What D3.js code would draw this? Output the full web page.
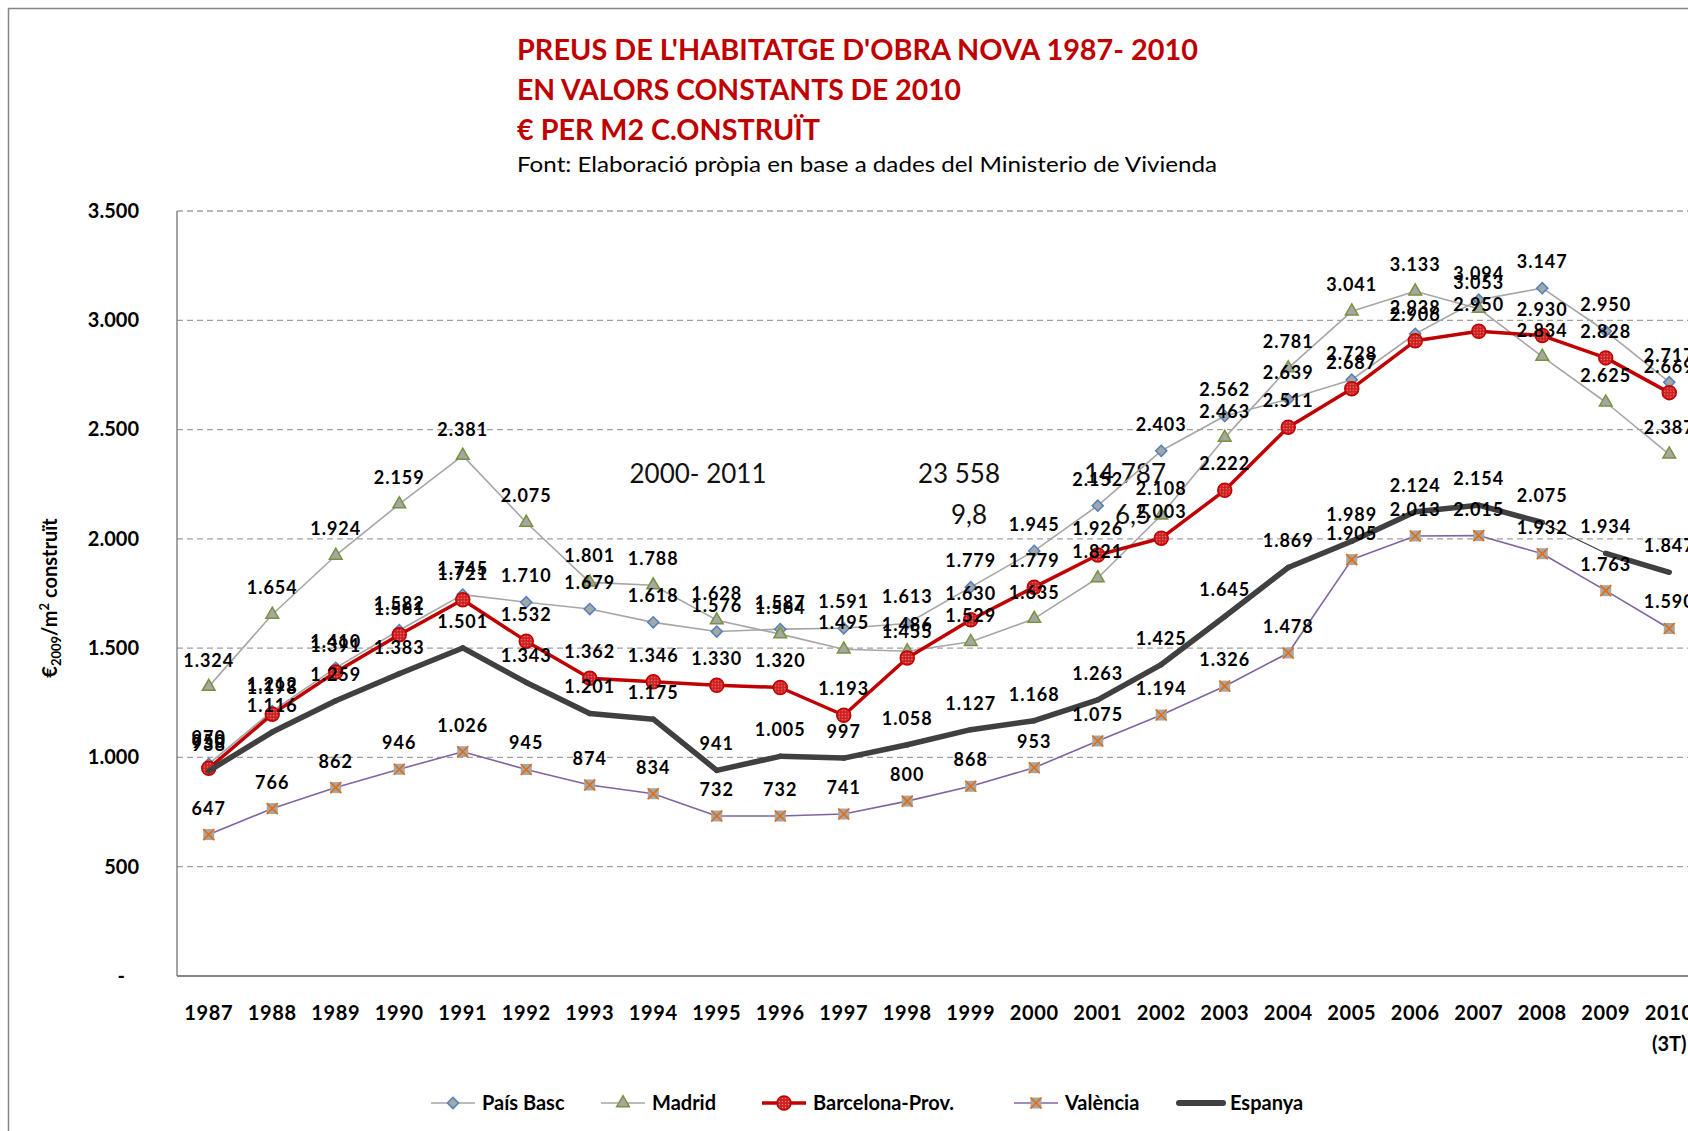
<!DOCTYPE html>
<html>
<head>
<meta charset="utf-8">
<script src="https://cdn.jsdelivr.net/npm/d3@7"></script>
<style>
  body { margin: 0; background: #fff; }
  svg text { font-family: Lato, "Open Sans", sans-serif; }
</style>
</head>
<body>
<svg id="render" width="1688" height="1131"></svg>
<script>
const years = ["1987","1988","1989","1990","1991","1992","1993","1994","1995","1996","1997","1998",
    "1999","2000","2001","2002","2003","2004","2005","2006","2007","2008","2009","2010"];
const yearSub = {"2010": "(3T)"};

const paisBasc  = [970,1212,1410,1582,1745,1710,1679,1618,1576,1587,1591,1613,1779,1945,2152,2403,2562,2639,2728,2938,3094,3147,2950,2717];
const madrid    = [1324,1654,1924,2159,2381,2075,1801,1788,1628,1564,1495,1486,1529,1635,1821,2108,2463,2781,3041,3133,3053,2834,2625,2387];
const barcelona = [950,1198,1391,1561,1721,1532,1362,1346,1330,1320,1193,1455,1630,1779,1926,2003,2222,2511,2687,2906,2950,2930,2828,2669];
const valencia  = [647,766,862,946,1026,945,874,834,732,732,741,800,868,953,1075,1194,1326,1478,1905,2013,2015,1932,1763,1590];
const espanya   = [938,1116,1259,1383,1501,1343,1201,1175,941,1005,997,1058,1127,1168,1263,1425,1645,1869,1989,2124,2154,2075,1934,1847];

const yTicks = [0,500,1000,1500,2000,2500,3000,3500];

const titleLines = ["PREUS DE L'HABITATGE D'OBRA NOVA 1987- 2010", "EN VALORS CONSTANTS DE 2010", "€ PER M2 C.ONSTRUÏT"];
const subtitle = "Font: Elaboració pròpia en base a  dades del Ministerio de Vivienda";
// loose notes floating in the plot
const notes = [
    {text: "2000- 2011", x: 698, y: 483},
    {text: "23 558", x: 959, y: 483},
    {text: "9,8", x: 969, y: 524},
    {text: "14 787", x: 1125, y: 483},
    {text: "6,5", x: 1133, y: 524}
];

const locale = d3.formatLocale({decimal: ",", thousands: ".", grouping: [3], currency: ["", "€"]});
const fmt = locale.format(",d");

const series = [
    {name: "País Basc", values: paisBasc, line: "#a6a6a6", width: 1.6, marker: "diamond"},
    {name: "Madrid", values: madrid, line: "#a6a6a6", width: 1.6, marker: "triangle"},
    {name: "Barcelona-Prov.", values: barcelona, line: "#c00000", width: 3.5, marker: "circle"},
    {name: "València", values: valencia, line: "#8064a2", width: 1.6, marker: "cross"},
    {name: "Espanya", values: espanya, line: "#404040", width: 5.5, marker: null}
];
const legendX = [431, 601, 762, 1014, 1179];

const svg = d3.select("svg#render");
const defs = svg.append("defs");
const pat = defs.append("pattern")
    .attr("id", "dots")
    .attr("width", 3).attr("height", 3)
    .attr("patternUnits", "userSpaceOnUse");
pat.append("rect").attr("width", 3).attr("height", 3).attr("fill", "#cc1f1f");
pat.append("circle").attr("cx", 1.5).attr("cy", 1.5).attr("r", 0.7).attr("fill", "#f08a8a");

// chart border
svg.append("rect")
    .attr("x", 8.5).attr("y", 8.5)
    .attr("width", 1800).attr("height", 1300)
    .attr("fill", "none")
    .attr("stroke", "#868686")
    .attr("stroke-width", 1.5);

const x = d3.scaleBand().domain(years).range([177, 1701]);
const xc = d => x(d) + x.bandwidth() / 2;
const y = d3.scaleLinear().domain([0, 3500]).range([976, 211]);

// title
const title = svg.append("g");
title.selectAll("text.t")
    .data(titleLines)
    .enter()
    .append("text")
    .attr("class", "t")
    .attr("x", 517)
    .attr("y", (d, i) => 60 + i * 40)
    .attr("fill", "#c00000")
    .attr("font-weight", "bold")
    .attr("font-size", 29)
    .attr("textLength", (d, i) => [681, 444, 303][i])
    .attr("lengthAdjust", "spacingAndGlyphs")
    .text(d => d);
title.append("text")
    .attr("x", 517)
    .attr("y", 172)
    .attr("font-size", 21)
    .attr("textLength", 700)
    .attr("lengthAdjust", "spacingAndGlyphs")
    .text(subtitle);

// gridlines
svg.append("g")
    .selectAll("line")
    .data(yTicks.filter(d => d > 0))
    .enter()
    .append("line")
    .attr("x1", 177).attr("x2", 1701)
    .attr("y1", d => y(d)).attr("y2", d => y(d))
    .attr("stroke", "#a0a0a0")
    .attr("stroke-width", 1.3)
    .attr("stroke-dasharray", "6,4");

// axes
const yAxis = svg.append("g")
    .attr("transform", "translate(177,0)")
    .call(d3.axisLeft(y).tickValues(yTicks).tickSize(0).tickPadding(38)
        .tickFormat(d => d === 0 ? "-" : fmt(d)));
yAxis.select(".domain").remove();
yAxis.selectAll("text")
    .attr("font-size", 20)
    .attr("font-weight", "bold")
    .attr("fill", "#000")
    .attr("dx", d => d === 0 ? -14 : 0);

const xAxis = svg.append("g")
    .attr("transform", "translate(0,976)")
    .call(d3.axisBottom(x).tickSize(0).tickPadding(30));
xAxis.select(".domain").remove();
xAxis.selectAll("text")
    .attr("font-size", 20)
    .attr("font-weight", "bold")
    .attr("letter-spacing", 0.6)
    .attr("fill", "#000");
xAxis.selectAll(".tick")
    .filter(d => yearSub[d])
    .append("text")
    .attr("y", 75)
    .attr("font-size", 20)
    .attr("font-weight", "bold")
    .attr("fill", "#000")
    .text(d => yearSub[d]);

svg.append("line")
    .attr("x1", 177).attr("x2", 177)
    .attr("y1", 211).attr("y2", 976)
    .attr("stroke", "#868686").attr("stroke-width", 1.5);
svg.append("line")
    .attr("x1", 177).attr("x2", 1701)
    .attr("y1", 976).attr("y2", 976)
    .attr("stroke", "#868686").attr("stroke-width", 2);

// y title
const yt = svg.append("text")
    .attr("transform", "translate(57,598) rotate(-90)")
    .attr("text-anchor", "middle")
    .attr("font-size", 20)
    .attr("font-weight", "bold");
yt.append("tspan").text("€");
yt.append("tspan").attr("font-size", 13).attr("dy", 4).text("2009");
yt.append("tspan").attr("dy", -4).text("/m");
yt.append("tspan").attr("font-size", 13).attr("dy", -8).text("2");
yt.append("tspan").attr("dy", 8).text(" construït");

// notes
svg.append("g")
    .selectAll("text")
    .data(notes)
    .enter()
    .append("text")
    .attr("x", d => d.x)
    .attr("y", d => d.y)
    .attr("text-anchor", "middle")
    .attr("font-size", 26)
    .attr("fill", "#111")
    .text(d => d.text);

const drawMarker = (g, type) => {
    if (type === "diamond") {
        g.append("path")
            .attr("d", d3.symbol(d3.symbolSquare, 62)())
            .attr("transform", "rotate(45)")
            .attr("fill", "#a6a6a6")
            .attr("stroke", "#4f81bd")
            .attr("stroke-width", 1.5);
    } else if (type === "triangle") {
        g.append("path")
            .attr("d", d3.symbol(d3.symbolTriangle, 70)())
            .attr("fill", "#a6a6a6")
            .attr("stroke", "#77933c")
            .attr("stroke-width", 1.5);
    } else if (type === "circle") {
        g.append("circle")
            .attr("r", 7)
            .attr("fill", "url(#dots)")
            .attr("stroke", "#c00000")
            .attr("stroke-width", 1.5);
    } else if (type === "cross") {
        g.append("rect")
            .attr("x", -5.5).attr("y", -5.5)
            .attr("width", 11).attr("height", 11)
            .attr("fill", "#a6a6a6");
        g.append("path")
            .attr("d", "M-5.5,-5.5L5.5,5.5M-5.5,5.5L5.5,-5.5")
            .attr("stroke", "#e46c0a")
            .attr("stroke-width", 1.6)
            .attr("fill", "none");
    }
};

const lineGen = d3.line()
    .x((d, i) => xc(years[i]))
    .y(d => y(d));

series.forEach(s => {
    const g = svg.append("g");
    if (s.name === "Espanya") {
        // the 2008-2009 segment is drawn thin in the source
        g.selectAll("line")
            .data(d3.pairs(s.values.map((v, i) => [xc(years[i]), y(v), years[i]])))
            .enter()
            .append("line")
            .attr("x1", d => d[0][0]).attr("y1", d => d[0][1])
            .attr("x2", d => d[1][0]).attr("y2", d => d[1][1])
            .attr("stroke", s.line)
            .attr("stroke-linecap", "round")
            .attr("stroke-width", d => d[0][2] === "2008" ? 1.2 : s.width);
    } else {
        g.append("path")
            .attr("d", lineGen(s.values))
            .attr("fill", "none")
            .attr("stroke", s.line)
            .attr("stroke-width", s.width)
            .attr("stroke-linejoin", "round");
    }
    if (s.marker) {
        g.selectAll("g.m")
            .data(s.values)
            .enter()
            .append("g")
            .attr("class", "m")
            .attr("transform", (d, i) => `translate(${xc(years[i])},${y(d)})`)
            .each(function() { drawMarker(d3.select(this), s.marker); });
    }
});

// data labels on top
series.forEach(s => {
    svg.append("g")
        .selectAll("text")
        .data(s.values)
        .enter()
        .append("text")
        .attr("x", (d, i) => xc(years[i]))
        .attr("y", d => y(d) - 20)
        .attr("text-anchor", "middle")
        .attr("font-size", 18)
        .attr("font-weight", "bold")
        .attr("letter-spacing", 1)
        .attr("fill", "#000")
        .text(d => fmt(d));
});

// legend
const legend = svg.append("g").attr("transform", "translate(0,1103)");
series.forEach((s, i) => {
    const item = legend.append("g").attr("transform", `translate(${legendX[i]},0)`);
    item.append("line")
        .attr("x1", 0).attr("x2", 44)
        .attr("stroke", s.line)
        .attr("stroke-width", s.name === "Espanya" ? 6 : s.width)
        .attr("stroke-linecap", s.name === "Espanya" ? "round" : "butt");
    if (s.marker) {
        const m = item.append("g").attr("transform", "translate(22,0)");
        drawMarker(m, s.marker);
    }
    item.append("text")
        .attr("x", 51)
        .attr("y", 7)
        .attr("font-size", 20)
        .attr("font-weight", "bold")
        .text(s.name);
});
</script>
</body>
</html>
